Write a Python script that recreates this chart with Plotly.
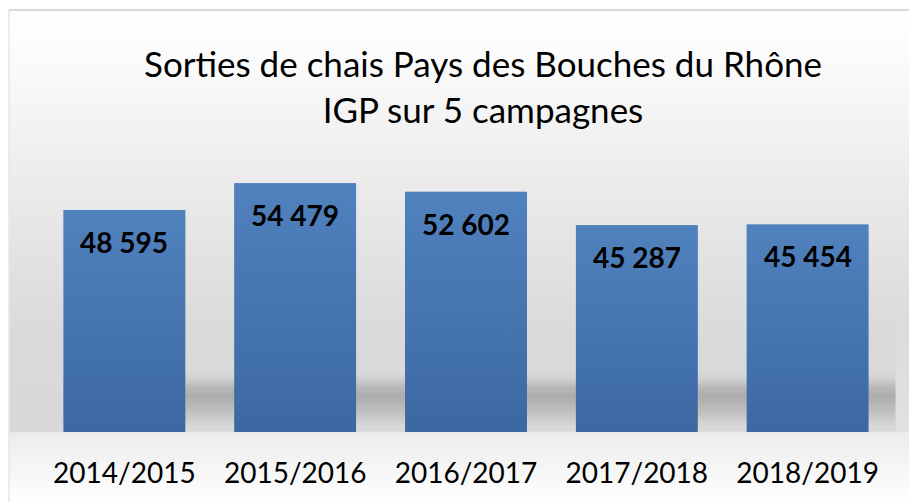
import base64
import plotly.graph_objects as go

# ---- data ----
campaigns = ["2014/2015", "2015/2016", "2016/2017", "2017/2018", "2018/2019"]
volumes = [48595, 54479, 52602, 45287, 45454]
title_lines = ["Sorties de chais Pays des Bouches du Rhône", "IGP sur 5 campagnes"]

# the page body has an 8px default margin: figure is drawn 8px in from the top-left
OFF = 8
W, H = 917 - OFF, 502 - OFF
ML, MR, MT, MB = 38.5 - OFF, 23.5, 158 - OFF, 70
PW, PH = W - ML - MR, H - MT - MB
BARGAP = 0.287
BAR_TOP, BAR_BOTTOM = "#5082be", "#3c68a1"

def fmt(v):
    return f"{v:,}".replace(",", " ")

def b64svg(s):
    return "data:image/svg+xml;base64," + base64.b64encode(s.encode("utf-8")).decode("ascii")

# background (gradient + floor shadow + border) as an SVG image, in page coordinates
RW, RH = 917, 502
svg = f"""<svg xmlns="http://www.w3.org/2000/svg" width="{W}" height="{H}" viewBox="0 0 {W} {H}" preserveAspectRatio="none">
<defs>
<linearGradient id="bg" x1="0" y1="0" x2="0" y2="{RH}" gradientUnits="userSpaceOnUse">
<stop offset="0" stop-color="#ffffff"/>
<stop offset="{60/RH}" stop-color="#fbfbfb"/>
<stop offset="{200/RH}" stop-color="#e9e9e9"/>
<stop offset="{330/RH}" stop-color="#dadada"/>
<stop offset="{431/RH}" stop-color="#d8d8d8"/>
<stop offset="{433/RH}" stop-color="#ececec"/>
<stop offset="{470/RH}" stop-color="#f6f6f6"/>
<stop offset="1" stop-color="#ffffff"/>
</linearGradient>
<linearGradient id="sh" x1="0" y1="0" x2="0" y2="1">
<stop offset="0" stop-color="#d8d8d8" stop-opacity="0"/>
<stop offset="0.3" stop-color="#b8b8b8"/>
<stop offset="0.48" stop-color="#acacac"/>
<stop offset="0.75" stop-color="#c0c0c0"/>
<stop offset="1" stop-color="#d8d8d8"/>
</linearGradient>
<linearGradient id="side" x1="0" y1="0" x2="0" y2="1">
<stop offset="0" stop-color="#e4e4e4" stop-opacity="0"/>
<stop offset="1" stop-color="#e4e4e4" stop-opacity="0.8"/>
</linearGradient>
</defs>
<g transform="translate({-OFF},{-OFF})">
<rect x="0" y="0" width="{RW}" height="{RH}" fill="#ffffff"/>
<rect x="9" y="11" width="{RW-9}" height="{RH-11}" fill="url(#bg)"/>
<rect x="896" y="300" width="{RW-896}" height="132" fill="url(#side)"/>
<rect x="63" y="370" width="833" height="56" fill="url(#sh)"/>
<line x1="8" y1="10" x2="{RW}" y2="10" stroke="#d9d9d9" stroke-width="2"/>
<line x1="8" y1="10" x2="8" y2="{RH}" stroke="#d9d9d9" stroke-width="2"/>
</g>
</svg>"""

# vertical gradient fill laid over each bar
bar_svg = f"""<svg xmlns="http://www.w3.org/2000/svg" width="10" height="100" viewBox="0 0 10 100" preserveAspectRatio="none">
<defs><linearGradient id="b" x1="0" y1="0" x2="0" y2="1">
<stop offset="0" stop-color="{BAR_TOP}"/><stop offset="1" stop-color="{BAR_BOTTOM}"/>
</linearGradient></defs>
<rect x="0" y="0" width="10" height="100" fill="url(#b)"/>
</svg>"""

fig = go.Figure()
fig.add_trace(go.Bar(
    x=campaigns, y=volumes,
    marker=dict(color="#4676b0", line=dict(width=0)),
    hoverinfo="x+y",
))

annotations = [
    dict(x=c, y=v, xref="x", yref="y", text=fmt(v), showarrow=False,
         yanchor="middle", yshift=-32,
         font=dict(family="Lato", size=28, color="#000000", weight="bold"))
    for c, v in zip(campaigns, volumes)
]
# title block: centre at page (483, 86.5)
annotations.append(dict(
    text="<br>".join(title_lines), showarrow=False,
    xref="paper", yref="paper",
    x=(483 - OFF - ML) / PW, y=1 + (MT - (86.5 - OFF)) / PH,
    xanchor="center", yanchor="middle", align="center",
    font=dict(family="Lato", size=35, color="#000000"),
))

images = [dict(
    source=b64svg(svg), xref="paper", yref="paper",
    x=-ML / PW, y=1 + MT / PH, sizex=W / PW, sizey=H / PH,
    xanchor="left", yanchor="top", sizing="stretch", layer="below",
)]
for i, v in enumerate(volumes):
    images.append(dict(
        source=b64svg(bar_svg), xref="x", yref="y",
        x=i, y=v, sizex=1 - BARGAP, sizey=v,
        xanchor="center", yanchor="top", sizing="stretch", layer="above",
    ))

fig.update_layout(
    width=W, height=H,
    template="none",
    margin=dict(l=ML, r=MR, t=MT, b=MB, autoexpand=False),
    paper_bgcolor="rgba(0,0,0,0)",
    plot_bgcolor="rgba(0,0,0,0)",
    bargap=BARGAP,
    showlegend=False,
    xaxis=dict(
        showgrid=False, zeroline=False, showline=False, ticks="",
        tickfont=dict(family="Lato", size=28, color="#000000"),
        ticklabelstandoff=22, automargin=False,
    ),
    yaxis=dict(
        range=[0, 60000], visible=False, showgrid=False, zeroline=False,
        automargin=False,
    ),
    annotations=annotations,
    images=images,
)

fig.write_html("out.html")
